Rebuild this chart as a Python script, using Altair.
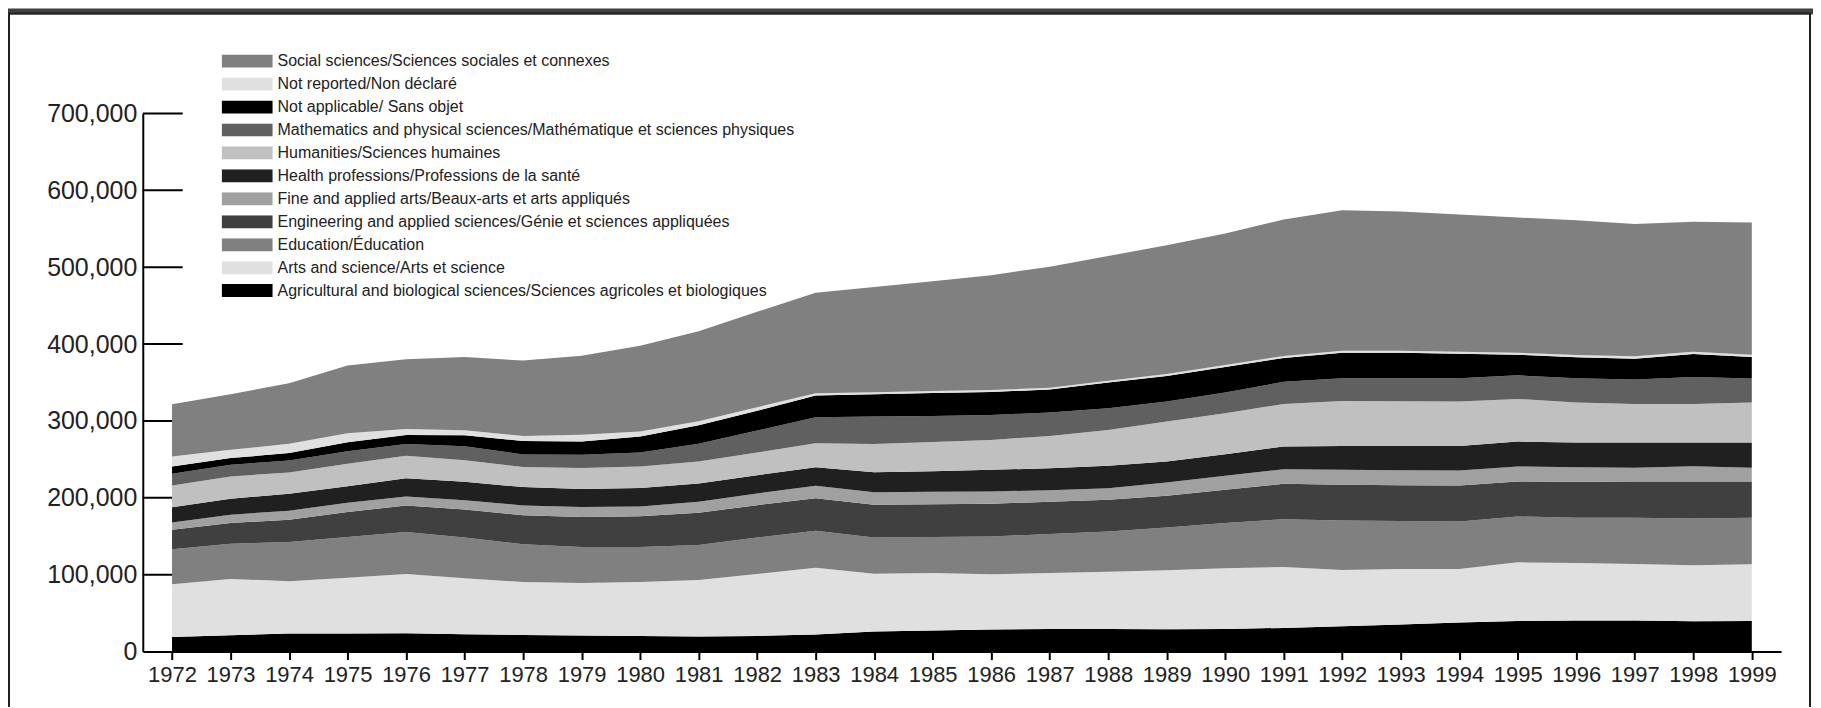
import altair as alt
import pandas as pd

years = list(range(1972, 2000))

# values in thousands of students
agri = [19.0, 21.2, 23.4, 23.4, 23.8, 22.5, 21.6, 20.8, 20.3, 19.5, 20.3, 22.1, 26.0, 27.3,
        28.6, 29.4, 29.4, 29.0, 29.4, 30.7, 32.9, 35.1, 37.7, 39.8, 40.3, 40.3, 39.4, 39.8]
arts = [68.4, 73.2, 68.0, 72.7, 77.1, 72.7, 68.9, 68.4, 70.2, 73.6, 80.6, 87.0, 75.3, 74.9,
        71.8, 72.8, 74.5, 76.6, 78.8, 79.3, 73.2, 72.3, 69.7, 76.2, 74.9, 73.6, 72.7, 73.6]
edu = [45.5, 45.9, 51.1, 52.8, 54.5, 53.2, 48.9, 46.8, 45.5, 45.5, 47.5, 48.0, 47.1, 46.7,
       49.3, 50.6, 52.3, 55.8, 58.9, 62.2, 64.4, 62.3, 61.8, 59.7, 58.8, 60.1, 60.9, 60.6]
eng = [25.5, 26.8, 29.0, 32.5, 34.6, 36.4, 37.7, 39.0, 39.8, 42.0, 42.0, 42.4, 42.5, 42.8,
       42.5, 42.0, 41.2, 41.2, 43.3, 45.9, 46.3, 46.7, 46.8, 45.5, 46.7, 47.0, 48.0, 47.0]
fine = [9.5, 10.8, 11.7, 12.1, 11.7, 12.1, 13.0, 13.0, 13.0, 14.3, 15.2, 16.0, 16.4, 16.0,
        16.0, 15.1, 15.1, 17.3, 18.1, 19.1, 19.5, 19.5, 19.5, 19.5, 19.1, 18.0, 20.0, 18.0]
health = [19.9, 20.8, 22.1, 21.6, 23.8, 23.8, 23.8, 23.4, 23.8, 23.8, 23.8, 24.3, 26.0, 26.9,
          28.1, 28.6, 29.0, 27.2, 28.2, 29.4, 31.2, 31.6, 32.0, 32.4, 32.0, 33.0, 31.0, 33.0]
hum = [28.1, 29.0, 27.7, 29.0, 29.0, 28.1, 26.0, 27.3, 28.1, 28.6, 29.4, 31.2, 36.8, 38.1,
       39.0, 42.0, 46.8, 52.0, 53.2, 55.4, 58.4, 58.0, 57.6, 55.4, 52.0, 50.0, 50.0, 52.0]
math = [15.2, 15.2, 15.6, 16.5, 15.6, 18.2, 16.5, 17.3, 18.2, 22.9, 28.6, 33.7, 35.5, 33.7,
        32.5, 30.3, 28.1, 26.0, 26.9, 29.0, 29.5, 29.9, 30.3, 30.8, 31.6, 32.0, 35.0, 31.0]
not_app = [9.5, 8.7, 9.5, 11.7, 11.7, 14.3, 17.3, 17.3, 20.8, 24.2, 25.8, 28.2, 29.1, 30.0,
           29.9, 29.9, 33.4, 33.4, 33.4, 30.9, 33.4, 33.4, 32.1, 26.9, 27.3, 27.0, 30.0, 28.0]
not_rep = [13.0, 10.8, 12.1, 11.7, 7.8, 6.5, 6.5, 8.7, 6.5, 5.2, 4.5, 3.0, 2.5, 2.5,
           2.5, 2.5, 2.5, 2.5, 2.5, 2.5, 2.5, 2.5, 2.5, 2.5, 3.0, 3.0, 3.0, 3.0]
social = [68.0, 72.3, 78.8, 87.9, 90.5, 95.2, 98.3, 102.6, 111.7, 116.9, 124.3, 130.8, 137.0, 142.9,
          149.4, 157.2, 162.2, 167.6, 171.0, 177.5, 182.7, 181.0, 178.4, 175.8, 175.3, 172.0, 169.0, 172.0]

# stacking order, bottom to top
categories = [
    "Agricultural and biological sciences/Sciences agricoles et biologiques",
    "Arts and science/Arts et science",
    "Education/Éducation",
    "Engineering and applied sciences/Génie et sciences appliquées",
    "Fine and applied arts/Beaux-arts et arts appliqués",
    "Health professions/Professions de la santé",
    "Humanities/Sciences humaines",
    "Mathematics and physical sciences/Mathématique et sciences physiques",
    "Not applicable/ Sans objet",
    "Not reported/Non déclaré",
    "Social sciences/Sciences sociales et connexes",
]
series = [agri, arts, edu, eng, fine, health, hum, math, not_app, not_rep, social]
fills = ["#000000", "#e0e0e0", "#808080", "#404040", "#a0a0a0", "#202020",
         "#c0c0c0", "#606060", "#000000", "#e0e0e0", "#808080"]

y_ticks = [0, 100000, 200000, 300000, 400000, 500000, 600000, 700000]

rows = []
for i, (name, vals) in enumerate(zip(categories, series)):
    for yr, v in zip(years, vals):
        rows.append({"year": yr, "field": name, "value": v * 1000, "order": i})
df = pd.DataFrame(rows)

legend_order = list(reversed(categories))
legend_colors = list(reversed(fills))

FONT = "Liberation Sans"
W, H = 1641, 539

x_scale = alt.Scale(domain=[1971.5, 1999.5], nice=False, zero=False)
y_scale = alt.Scale(domain=[0, 700000], nice=False)
y_axis = alt.Axis(values=y_ticks, labelExpr="format(datum.value, ',.0f')", title=None,
                  ticks=False, labelFontSize=25, labelPadding=6)

area = alt.Chart(df).mark_area(interpolate="linear").encode(
    x=alt.X("year:Q", scale=x_scale,
            axis=alt.Axis(values=years, format="d", title=None, tickSize=8,
                          labelFontSize=22, labelPadding=5, labelOverlap=False,
                          labelFlush=False)),
    y=alt.Y("value:Q", stack="zero", scale=y_scale, axis=y_axis, title=None),
    color=alt.Color("field:N", scale=alt.Scale(domain=legend_order, range=legend_colors),
                    legend=alt.Legend(title=None, orient="none", legendX=79, legendY=-59,
                                      symbolType="M-1,-0.255H1V0.255H-1Z", symbolSize=2601,
                                      symbolStrokeWidth=0, clipHeight=13, rowPadding=6,
                                      labelFont=FONT, labelFontSize=16, labelColor="#222222",
                                      labelOffset=5, labelLimit=0, padding=0, symbolOpacity=1)),
    order=alt.Order("order:Q", sort="ascending"),
)

tick_df = pd.DataFrame({"tick": y_ticks[1:]})
ticks = alt.Chart(tick_df).mark_rule(color="black", strokeWidth=2).encode(
    y=alt.Y("tick:Q", scale=y_scale, axis=y_axis, title=None),
    x=alt.value(0),
    x2=alt.value(40),
)

deco = alt.Data(values=[{"k": 1}])
header = alt.Chart(deco).mark_rect(color="#404040").encode(
    x=alt.value(-135), x2=alt.value(1680), y=alt.value(-105), y2=alt.value(-99)
)
frame = alt.Chart(deco).mark_rect(filled=False, stroke="#222222", strokeWidth=2).encode(
    x=alt.value(-134), x2=alt.value(1670), y=alt.value(-100), y2=alt.value(620)
)

chart = alt.layer(header, frame, ticks, area).properties(
    width=W, height=H,
    padding={"left": 135, "top": 105, "right": 32, "bottom": 55},
    autosize=alt.AutoSizeParams(type="none"),
    background="white",
).configure_view(strokeWidth=0).configure_axis(
    domainColor="black", domainWidth=2, tickColor="black", tickWidth=2,
    labelFont=FONT, labelColor="#222222", grid=False,
)

chart.save("out.html", embed_options={"renderer": "svg", "actions": False})
